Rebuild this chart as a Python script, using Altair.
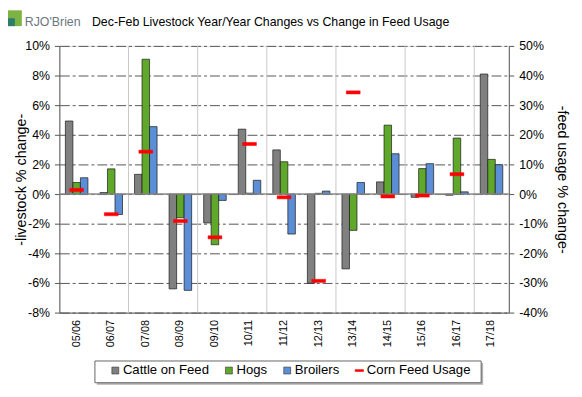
import altair as alt
import pandas as pd

FONT = "Liberation Sans"

seasons = ["05/06", "06/07", "07/08", "08/09", "09/10", "10/11", "11/12",
           "12/13", "13/14", "14/15", "15/16", "16/17", "17/18"]
cattle = [4.93, 0.1, 1.33, -6.4, -1.95, 4.38, 2.98, -6.02, -5.05, 0.82, -0.22, -0.08, 8.1]
hogs = [0.78, 1.7, 9.1, -1.6, -3.42, 0.06, 2.18, 0.05, -2.45, 4.65, 1.72, 3.78, 2.34]
broilers = [1.1, -1.38, 4.55, -6.5, -0.43, 0.93, -2.7, 0.2, 0.78, 2.72, 2.05, 0.15, 1.98]
corn = [1.4, -6.8, 14.3, -9.1, -14.6, 16.9, -1.1, -29.3, 34.3, -0.8, -0.5, 6.7, None]

livestock_series = ["Cattle on Feed", "Hogs", "Broilers"]
legend_series = livestock_series + ["Corn Feed Usage"]
colors = ["#808080", "#5fa82a", "#5b8ed6", "#ff0000"]
grid_seasons = seasons[2::2]

left_ticks = [-8, -6, -4, -2, 0, 2, 4, 6, 8, 10]
right_ticks = [-40, -30, -20, -10, 0, 10, 20, 30, 40, 50]

TITLE = "Dec-Feb Livestock Year/Year Changes vs Change in Feed Usage"
LINE_PATH = "M-1.2,-0.27H1.2V0.27H-1.2Z"

rows = []
for name, vals in zip(livestock_series, [cattle, hogs, broilers]):
    for s, v in zip(seasons, vals):
        rows.append({"season": s, "series": name, "value": v})
bars_df = pd.DataFrame(rows)
corn_df = pd.DataFrame([{"season": s, "series": "Corn Feed Usage", "value": v}
                        for s, v in zip(seasons, corn) if v is not None])

x_scale = alt.Scale(domain=seasons, paddingInner=0, paddingOuter=0)
x_axis = alt.Axis(title=None, labelAngle=270, ticks=False, grid=False, labelPadding=7,
                  labelFontSize=11, labelColor="#000", labelFont=FONT,
                  domainColor="#555", domainWidth=1)

left_axis = alt.Axis(orient="left", values=left_ticks, labelExpr="datum.value + '%'",
                     grid=True, gridDash=[10, 3, 3, 3], gridColor="#555", gridWidth=1,
                     domainColor="#555", tickColor="#555", tickSize=5, labelPadding=5,
                     labelFontSize=12.5, labelColor="#000", labelFont=FONT,
                     title="-livestock % change-", titleFont=FONT, titleFontSize=14.5,
                     titleFontWeight="normal", titleColor="#000", titleAngle=270,
                     titleX=-38, titleY=135, titleAlign="center", titleBaseline="middle")
right_axis = alt.Axis(orient="right", values=right_ticks, labelExpr="datum.value + '%'",
                      grid=False, domainColor="#555", tickColor="#555", tickSize=5,
                      labelPadding=5, labelFontSize=12.5, labelColor="#000", labelFont=FONT,
                      title="-feed usage % change-", titleFont=FONT, titleFontSize=14.5,
                      titleFontWeight="normal", titleColor="#000", titleAngle=90,
                      titleX=53, titleY=135, titleAlign="center", titleBaseline="middle")

legend_def = alt.Legend(title=None, orient="none", legendX=50, legendY=322,
                        direction="horizontal", columns=4, columnPadding=13,
                        labelFont=FONT, labelFontSize=13.3, labelColor="#000",
                        labelOffset=1, symbolSize=49, symbolStrokeWidth=0.6,
                        padding=0, strokeColor=None)

fill_scale = alt.Scale(domain=legend_series, range=colors)

one = pd.DataFrame({"a": [0]})

# legend frame (decoration)
legend_shadow = alt.Chart(one).mark_rect(fill="#b0b0b0").encode(
    x=alt.value(38), x2=alt.value(429), y=alt.value(321), y2=alt.value(343))
legend_box = alt.Chart(one).mark_rect(fill="white", stroke="#666", strokeWidth=1).encode(
    x=alt.value(36), x2=alt.value(427), y=alt.value(319), y2=alt.value(341))

# logo and title
logo_a = alt.Chart(one).mark_rect(fill="#7cb342").encode(
    x=alt.value(-53), x2=alt.value(-38), y=alt.value(-36), y2=alt.value(-20))
logo_b = alt.Chart(one).mark_rect(fill="#2e7d6b").encode(
    x=alt.value(-53), x2=alt.value(-45), y=alt.value(-28), y2=alt.value(-20))
logo_t = alt.Chart(one).mark_text(text="RJO'Brien", font=FONT, fontSize=12.5,
                                  color="#6b7780", align="left", baseline="alphabetic").encode(
    x=alt.value(-35), y=alt.value(-20))
title_t = alt.Chart(one).mark_text(text=TITLE, font=FONT, fontSize=12.5,
                                   color="#000", align="left", baseline="alphabetic").encode(
    x=alt.value(33), y=alt.value(-20))

vgrid = alt.Chart(pd.DataFrame({"season": grid_seasons})).mark_rule(
    color="#c8c8c8", strokeWidth=1).encode(
    x=alt.X("season:N", scale=x_scale, axis=x_axis, bandPosition=0))

bars = alt.Chart(bars_df).mark_bar(stroke="#1a1a1a", strokeWidth=0.7).encode(
    x=alt.X("season:N", scale=x_scale, axis=x_axis),
    xOffset=alt.XOffset("series:N", scale=alt.Scale(domain=livestock_series,
                                                     paddingInner=0, paddingOuter=0.8)),
    y=alt.Y("value:Q", scale=alt.Scale(domain=[-8, 10], nice=False, zero=False), axis=left_axis),
    fill=alt.Fill("series:N", scale=fill_scale, legend=legend_def),
)

zero = alt.Chart(pd.DataFrame({"v": [0]})).mark_rule(color="#8a8a8a", strokeWidth=1.5).encode(
    y=alt.Y("v:Q", scale=alt.Scale(domain=[-8, 10], nice=False, zero=False), axis=left_axis))

left = alt.layer(legend_shadow, legend_box, logo_a, logo_b, logo_t, title_t, vgrid, bars, zero)

corn_pts = alt.Chart(corn_df).mark_point(filled=True, opacity=1, size=136, strokeWidth=0.5).encode(
    x=alt.X("season:N", scale=x_scale, axis=x_axis),
    y=alt.Y("value:Q", scale=alt.Scale(domain=[-40, 50], nice=False, zero=False), axis=right_axis),
    fill=alt.Fill("series:N", scale=fill_scale, legend=legend_def),
    stroke=alt.Stroke("series:N", scale=alt.Scale(domain=legend_series,
                                                  range=["#333", "#333", "#333", "#ff0000"]),
                      legend=legend_def),
    shape=alt.Shape("series:N", scale=alt.Scale(domain=legend_series,
                                                range=["square", "square", "square", LINE_PATH]),
                    legend=legend_def),
)

chart = alt.layer(left, corn_pts).resolve_scale(y="independent").properties(
    width=455, height=270,
    autosize=alt.AutoSizeParams(type="none"),
    padding={"left": 52, "top": 36, "right": 66, "bottom": 75},
).configure_view(stroke="#555", strokeWidth=1).configure(font=FONT, background="white")

chart.save("out.html", embed_options={"renderer": "svg", "actions": False})
